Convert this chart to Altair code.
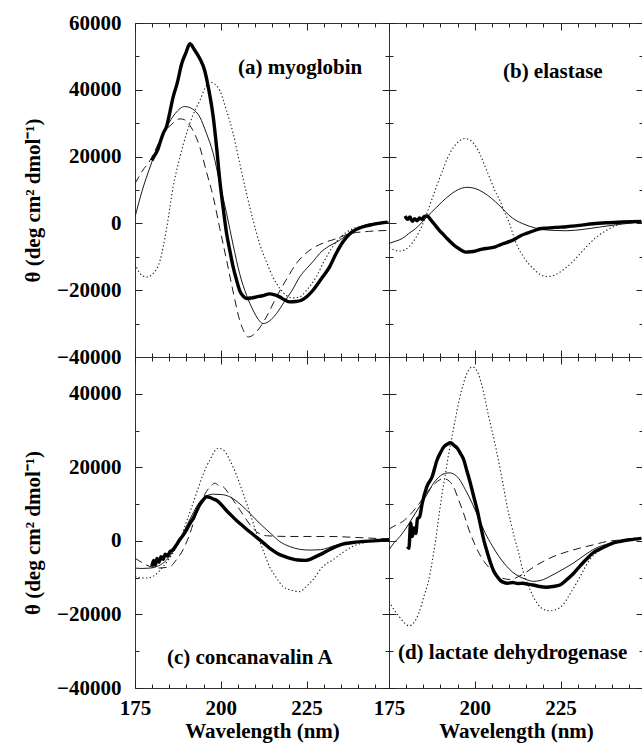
import altair as alt
import pandas as pd

FONT = "Liberation Serif"

# ---------------- data ----------------
# (a) myoglobin
a_thick_nm = [179.9, 180.8, 181.6, 182.4, 183.2, 184.2, 185.2, 186.1, 187.3, 188.6, 189.8, 191.0, 192.3, 193.9, 195.3, 196.5, 197.8, 198.8, 199.7, 200.7, 201.7, 202.7, 203.6, 204.6, 205.5, 206.5, 207.5, 209.0, 210.4, 212.3, 214.2, 215.7, 217.1, 218.6, 220.1, 221.8, 223.5, 225.2, 226.8, 228.3, 229.7, 231.7, 233.6, 235.6, 237.7, 239.9, 242.1, 244.3, 246.4, 248.6]
a_thick_val = [18900, 20500, 22000, 24500, 26900, 29000, 33500, 37800, 42000, 47800, 51000, 53800, 52000, 49300, 45800, 40000, 31800, 22500, 12900, 4500, -3100, -8500, -13100, -17000, -20100, -21800, -22500, -22300, -22000, -21600, -21100, -21400, -22000, -22900, -23500, -23400, -23000, -21800, -20100, -18000, -16000, -13000, -9000, -5500, -3000, -1600, -800, -300, 100, 400]
a_thin_nm = [175, 177.0, 179.4, 181.8, 184.2, 186.8, 189.5, 191.7, 193.9, 195.8, 197.8, 199.7, 201.7, 203.6, 205.5, 207.5, 209.4, 210.9, 212.3, 214.2, 216.2, 218.5, 220.8, 223.0, 225.0, 226.8, 228.8, 231.5, 234.6, 237.5, 240.4, 244.0, 249.0]
a_thin_val = [1900, 9500, 16900, 23500, 28800, 33000, 35000, 34300, 31800, 27000, 20900, 12000, 2900, -6500, -15100, -21500, -26000, -28700, -30000, -29200, -27000, -23500, -20000, -16000, -13500, -11500, -9000, -6800, -5100, -2800, -1100, -100, 400]
a_dash_nm = [175, 177.0, 179.4, 181.3, 183.2, 185.5, 188.1, 189.5, 191.0, 192.5, 193.9, 195.8, 197.8, 199.7, 201.7, 203.6, 205.5, 206.8, 208.0, 209.7, 211.5, 213.8, 216.2, 219.0, 222.0, 224.5, 227.0, 230.0, 233.0, 237.5, 243.0, 249.0]
a_dash_val = [11900, 15500, 18900, 22800, 26900, 29500, 31300, 31000, 29300, 26500, 22800, 15500, 7900, -1500, -11100, -20500, -29000, -32500, -34000, -33200, -31000, -27000, -22000, -17000, -12000, -9200, -7300, -5800, -4800, -3100, -2400, -2100]
a_dot_nm = [175, 176.5, 178.4, 180.3, 182.3, 184.2, 186.1, 188.0, 190.0, 191.9, 193.9, 195.4, 196.8, 198.3, 199.7, 201.6, 203.6, 205.5, 207.5, 209.4, 211.3, 213.3, 215.2, 217.2, 219.1, 221.0, 223.0, 225.0, 227.8, 230.0, 232.6, 235.0, 237.5, 243.0, 249.0]
a_dot_val = [-12100, -15000, -16100, -15000, -11100, -1500, 10900, 19500, 26900, 32500, 36800, 40500, 42300, 41700, 39800, 34000, 26900, 18000, 8900, 1000, -6100, -11500, -16100, -19500, -21600, -22300, -22000, -20000, -16000, -11500, -7000, -4000, -2100, -500, 0]

# (b) elastase
b_thick_nm = [179.7, 180.4, 181.1, 181.8, 182.5, 183.2, 183.9, 184.6, 185.3, 186.1, 187.3, 188.5, 189.6, 190.8, 192.0, 193.4, 194.8, 196.2, 197.4, 198.8, 200.4, 202.2, 204.0, 206.0, 208.2, 210.2, 212.0, 213.5, 215.3, 217.2, 218.9, 221.0, 223.5, 226.7, 230.5, 234.4, 238.3, 243.0, 248.5]
b_thick_val = [2200, 1200, 1900, 600, 1400, 800, 1600, 1200, 2100, 2200, 900, -600, -2000, -3300, -4600, -6000, -7200, -8100, -8600, -8500, -8200, -7700, -7400, -7000, -6100, -5400, -4500, -3600, -2900, -2200, -1600, -1400, -1200, -1000, -600, -100, 200, 400, 600]
b_thin_nm = [175, 177.0, 178.9, 180.8, 182.8, 184.5, 186.1, 188.5, 190.5, 192.5, 194.4, 196.1, 197.8, 199.5, 201.2, 203.6, 206.0, 208.0, 209.9, 212.0, 214.0, 215.8, 218.9, 222.8, 226.7, 231.5, 236.3, 242.0, 249.0]
b_thin_val = [-6000, -5300, -4500, -3000, -1500, 200, 2000, 4500, 6500, 8300, 9700, 10500, 10800, 10600, 10000, 8500, 6500, 4500, 2500, 900, -100, -800, -1700, -2100, -2200, -1800, -1100, -300, 500]
b_dot_nm = [175, 176.5, 177.9, 179.4, 180.8, 182.7, 184.7, 186.1, 187.6, 189.0, 190.5, 192.0, 193.6, 195.3, 197.0, 198.5, 200.0, 201.6, 203.0, 204.6, 206.0, 207.3, 208.5, 209.9, 212.1, 214.5, 217.0, 218.9, 220.8, 222.7, 224.5, 226.5, 228.5, 231.5, 235.0, 238.3, 241.0, 243.5, 249.0]
b_dot_val = [-7300, -7900, -8300, -8000, -7000, -4500, -500, 3200, 7500, 11500, 15500, 19500, 22500, 24500, 25400, 25000, 23500, 20500, 17000, 13000, 9500, 6900, 3800, 500, -6100, -10500, -13500, -15200, -15900, -15700, -14800, -13300, -11500, -8100, -4500, -2100, -700, 100, 600]

# (c) concanavalin A
c_thick_nm = [179.9, 180.4, 180.9, 181.4, 182.0, 182.6, 183.2, 183.8, 184.5, 185.2, 186.1, 187.0, 188.0, 189.0, 190.0, 191.0, 192.0, 192.9, 193.8, 194.8, 195.8, 196.8, 197.8, 198.8, 200.0, 201.5, 203.0, 204.5, 206.5, 208.5, 210.5, 212.5, 214.5, 216.5, 218.5, 220.5, 222.5, 224.5, 226.0, 227.8, 229.7, 231.5, 233.5, 235.5, 238.0, 241.0, 244.5, 249.0]
c_thick_val = [-7000, -5300, -6600, -4800, -5800, -4300, -5000, -3600, -4100, -2900, -2400, -1200, 300, 1500, 3000, 4700, 6200, 8000, 9700, 11000, 12000, 11800, 11400, 11000, 10000, 8400, 7000, 5600, 4000, 2400, 900, -600, -2200, -3400, -4200, -4800, -5200, -5300, -5000, -4200, -3400, -2500, -1600, -900, -500, -200, 0, 300]
c_thin_nm = [175, 177.0, 179.4, 181.8, 184.2, 186.6, 189.0, 191.5, 193.9, 195.8, 197.8, 200.2, 202.6, 205.0, 207.5, 210.0, 212.3, 214.8, 217.2, 220.0, 223.0, 226.0, 229.0, 233.8, 238.0, 243.0, 249.0]
c_thin_val = [-7400, -7500, -7400, -6800, -5200, -2000, 2100, 6800, 10700, 12200, 12700, 12600, 12000, 10500, 8400, 6000, 3900, 1800, -200, -1500, -2300, -2500, -2400, -1100, -400, 0, 300]
c_dash_nm = [175, 176.2, 177.4, 179.4, 181.3, 183.2, 185.2, 187.0, 189.0, 191.0, 192.9, 194.5, 195.8, 197.0, 198.3, 199.5, 200.7, 202.2, 203.6, 205.5, 207.5, 209.0, 210.4, 213.3, 220.1, 231.7, 240.0, 249.0]
c_dash_val = [-4700, -5400, -6100, -7000, -7400, -7300, -7000, -5200, -2400, 2000, 7500, 11000, 13400, 14800, 15700, 15000, 14700, 13000, 11100, 8500, 5700, 3800, 2500, 1400, 1200, 1200, 900, 500]
c_dot_nm = [175, 176.7, 178.4, 180.3, 183.2, 185.7, 188.1, 190.5, 192.9, 194.8, 196.8, 199.2, 201.0, 202.6, 204.6, 206.5, 208.5, 210.4, 212.3, 214.2, 216.2, 218.1, 221.0, 223.0, 224.9, 226.8, 229.7, 232.6, 235.5, 238.4, 243.0, 249.0]
c_dot_val = [-9700, -10000, -10100, -9600, -7000, -3800, 300, 6500, 12900, 18000, 22000, 25200, 24500, 22000, 17800, 12900, 7500, 2100, -2500, -7000, -10000, -12400, -13500, -13800, -12400, -10600, -7000, -5200, -3200, -1500, -300, 300]

# (d) lactate dehydrogenase
d_thick_nm = [180.4, 180.8, 181.3, 181.8, 182.3, 182.8, 183.3, 183.9, 184.7, 186.0, 187.6, 189.0, 190.0, 191.0, 192.0, 192.9, 193.9, 194.9, 195.8, 196.8, 197.7, 198.7, 199.7, 200.7, 201.6, 202.6, 203.6, 204.6, 205.5, 206.5, 207.5, 208.4, 209.5, 211.0, 212.5, 214.0, 215.5, 217.0, 218.9, 220.8, 222.8, 224.8, 226.7, 228.6, 230.5, 232.5, 234.4, 236.5, 238.5, 240.2, 242.5, 245.0, 248.5]
d_thick_val = [-1500, -2000, 4900, 1200, 3500, 2000, 6000, 6500, 10300, 14700, 17500, 22000, 24000, 25600, 26300, 26700, 26000, 25200, 23800, 22000, 19000, 15700, 12000, 8400, 4500, 300, -3000, -6000, -8200, -9700, -10800, -11300, -11500, -11300, -11600, -11500, -11800, -12000, -12400, -12600, -12400, -12000, -10600, -9000, -7000, -5000, -3300, -2200, -1300, -600, -100, 300, 700]
d_thin_nm = [175, 176.5, 178.2, 180.0, 182.0, 184.0, 186.0, 188.0, 190.0, 191.5, 192.6, 193.8, 195.3, 197.2, 199.2, 201.0, 203.0, 205.0, 207.0, 209.0, 211.0, 213.0, 215.0, 217.0, 219.0, 222.8, 225.7, 228.6, 231.5, 234.4, 238.0, 242.2, 248.5]
d_thin_val = [-2400, -500, 1200, 3500, 6500, 9500, 12500, 15700, 17700, 18400, 18500, 18200, 17000, 14000, 10300, 6500, 2200, -1200, -4200, -6600, -8500, -9700, -10500, -11000, -10800, -9200, -7700, -6100, -4200, -2400, -1000, -200, 700]
d_dash_nm = [175, 177.0, 178.9, 180.8, 182.8, 184.7, 186.6, 188.5, 189.6, 190.6, 191.6, 192.6, 193.8, 195.3, 196.8, 198.3, 199.8, 201.2, 202.7, 204.1, 205.5, 207.0, 208.6, 210.5, 212.5, 214.5, 217.0, 219.9, 222.8, 226.7, 230.5, 234.4, 238.3, 243.0, 248.5]
d_dash_val = [3200, 4300, 5200, 6800, 8900, 11300, 13800, 15700, 16500, 16900, 16800, 16200, 14700, 11100, 7300, 3000, -500, -3300, -5600, -7200, -8600, -9600, -10300, -10500, -9800, -8800, -7200, -5600, -4300, -3000, -2000, -1100, -200, 300, 700]
d_dot_nm = [175, 176.5, 177.9, 179.4, 180.8, 182.2, 183.7, 185.2, 186.6, 187.6, 188.6, 189.5, 190.5, 191.5, 192.4, 193.4, 194.4, 195.5, 196.6, 197.6, 198.5, 199.2, 200.0, 201.0, 202.0, 203.0, 204.0, 205.0, 206.2, 207.5, 208.5, 209.5, 210.5, 211.5, 212.7, 214.0, 215.5, 217.0, 218.5, 220.0, 221.8, 223.5, 225.7, 227.5, 229.6, 231.5, 233.4, 236.0, 238.3, 242.0, 248.5]
d_dot_val = [-16500, -18800, -20500, -22200, -23100, -22300, -19600, -15000, -10600, -5500, 300, 6500, 13000, 18500, 23800, 28500, 33500, 38500, 42500, 45300, 46800, 47300, 47000, 45500, 42500, 38500, 34000, 30000, 25000, 19000, 14000, 9000, 5000, 1000, -3000, -8000, -12000, -15100, -17400, -18600, -19000, -18700, -17400, -14800, -11500, -8300, -5200, -2800, -1500, -300, 700]

# panel labels and their anchor (wavelength, value)
panel_labels = ["(a) myoglobin", "(b) elastase", "(c) concanavalin A", "(d) lactate dehydrogenase"]
label_nm = [205.0, 208.2, 184.3, 177.6]
label_val = [46500, 45300, -31800, -30500]

# axes
x_domain = [175, 249]
x_major = [175, 200, 225]
x_minor = [180, 185, 190, 195, 205, 210, 215, 220, 230, 235, 240, 245]
top_domain = [-40000, 60000]
top_major = [-40000, -20000, 0, 20000, 40000, 60000]
top_minor = [-30000, -10000, 10000, 30000, 50000]
bot_domain = [-40000, 50000]
bot_major = [-40000, -20000, 0, 20000, 40000]
bot_minor = [-30000, -10000, 10000, 30000]

Y_TITLE = "θ (deg cm² dmol⁻¹)"
X_TITLE = "Wavelength (nm)"

STYLE = {
    "thick": dict(strokeWidth=3.4, color="black"),
    "thin": dict(strokeWidth=1.0, color="#1a1a1a"),
    "dash": dict(strokeWidth=1.0, color="#1a1a1a", strokeDash=[8, 5]),
    "dot": dict(strokeWidth=1.1, color="#1a1a1a", strokeDash=[1.3, 2.4]),
}
TICK_COLOR = "#222222"


def df_of(nm, val):
    return pd.DataFrame({"nm": nm, "val": val})


def panel(series, idx, ydom, ymaj, ymin, w, h, show_y, show_x):
    xs = alt.Scale(domain=x_domain, nice=False, zero=False)
    ys = alt.Scale(domain=ydom, nice=False, zero=False)
    base = df_of(*series[-1][1:])
    layers = []

    # label axes (invisible helper line)
    if show_x:
        xax = alt.Axis(orient="bottom", values=x_major, format="d", ticks=False,
                       domain=False, grid=False, labelPadding=9, labelFlush=False,
                       labelOverlap=False, labelBaseline="top", title=X_TITLE,
                       titleX=w / 2, titleY=49, titleBaseline="alphabetic",
                       titleAlign="center")
    else:
        xax = None
    if show_y:
        yax = alt.Axis(orient="left", values=ymaj, format="d", ticks=False,
                       domain=False, grid=False, labelPadding=14, labelFlush=False,
                       labelOverlap=False, labelBaseline="middle", title=Y_TITLE,
                       titleX=-96, titleY=h / 2 + 10, titleAngle=270,
                       titleBaseline="alphabetic", titleAlign="center")
    else:
        yax = None
    layers.append(alt.Chart(base).mark_line(opacity=0).encode(
        x=alt.X("nm:Q", scale=xs, axis=xax),
        y=alt.Y("val:Q", scale=ys, axis=yax)))

    # inward ticks on all four sides (major and minor)
    for xo, yo, size, xv, yv in [("bottom", "left", 7, x_major, ymaj),
                                  ("top", "right", 7, x_major, ymaj),
                                  ("bottom", "left", 4, x_minor, ymin),
                                  ("top", "right", 4, x_minor, ymin)]:
        layers.append(alt.Chart(base).mark_line(opacity=0).encode(
            x=alt.X("nm:Q", scale=xs, axis=alt.Axis(
                orient=xo, offset=-size, tickSize=size, values=xv, labels=False,
                domain=False, grid=False, ticks=True, tickColor=TICK_COLOR,
                tickWidth=1, title=None)),
            y=alt.Y("val:Q", scale=ys, axis=alt.Axis(
                orient=yo, offset=-size, tickSize=size, values=yv, labels=False,
                domain=False, grid=False, ticks=True, tickColor=TICK_COLOR,
                tickWidth=1, title=None))))

    # curves
    for kind, nm, val in series:
        layers.append(alt.Chart(df_of(nm, val)).mark_line(
            interpolate="monotone", clip=True, strokeCap="butt", **STYLE[kind]).encode(
            x=alt.X("nm:Q", scale=xs, axis=None),
            y=alt.Y("val:Q", scale=ys, axis=None)))

    # panel label
    lab = pd.DataFrame({"nm": [label_nm[idx]], "val": [label_val[idx]],
                        "t": [panel_labels[idx]]})
    layers.append(alt.Chart(lab).mark_text(
        align="left", baseline="middle", font=FONT, fontSize=21,
        fontWeight="bold", color="black").encode(
        x=alt.X("nm:Q", scale=xs, axis=None),
        y=alt.Y("val:Q", scale=ys, axis=None),
        text="t:N"))

    return alt.layer(*layers).resolve_axis(x="independent", y="independent").properties(
        width=w, height=h)


pa = panel([("dot", a_dot_nm, a_dot_val), ("dash", a_dash_nm, a_dash_val),
            ("thin", a_thin_nm, a_thin_val), ("thick", a_thick_nm, a_thick_val)],
           0, top_domain, top_major, top_minor, 254, 334, True, False)
pb = panel([("dot", b_dot_nm, b_dot_val), ("thin", b_thin_nm, b_thin_val),
            ("thick", b_thick_nm, b_thick_val)],
           1, top_domain, top_major, top_minor, 254, 334, False, False)
pc = panel([("dot", c_dot_nm, c_dot_val), ("dash", c_dash_nm, c_dash_val),
            ("thin", c_thin_nm, c_thin_val), ("thick", c_thick_nm, c_thick_val)],
           2, bot_domain, bot_major, bot_minor, 254, 331, True, True)
pd_ = panel([("dot", d_dot_nm, d_dot_val), ("dash", d_dash_nm, d_dash_val),
             ("thin", d_thin_nm, d_thin_val), ("thick", d_thick_nm, d_thick_val)],
            3, bot_domain, bot_major, bot_minor, 254, 331, False, True)

chart = alt.concat(pa, pb, pc, pd_, columns=2, spacing=0, bounds="flush").properties(
    autosize="none",
    padding={"left": 135, "top": 23, "right": 507, "bottom": 722},
    background="white",
).configure_view(
    stroke="#333333", strokeWidth=1
).configure_axis(
    grid=False, labelFont=FONT, labelFontSize=21, labelFontWeight="bold",
    labelColor="black", titleFont=FONT, titleFontSize=21, titleFontWeight="bold",
    titleColor="black"
)

chart.save("out.html", embed_options={"renderer": "svg", "actions": False})
